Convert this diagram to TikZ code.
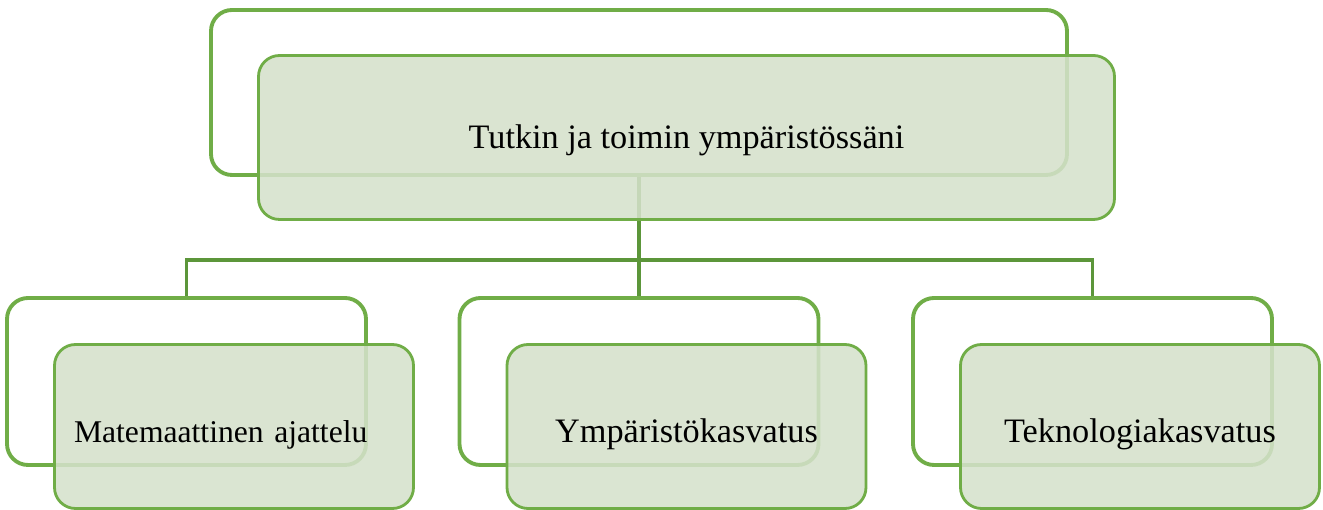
\documentclass[tikz,border=0pt]{standalone}
\usepackage{fontspec}
\setmainfont{Liberation Serif}
\usetikzlibrary{positioning}
\definecolor{leafLine}{RGB}{112,173,71}
\definecolor{stemLine}{RGB}{92,150,58}
\definecolor{leafFill}{RGB}{213,225,203}
\newcommand{\boxShiftX}{0.95}
\newcommand{\boxShiftY}{-0.9}
\newcommand{\barHeight}{5.0}
\tikzset{
  backbox/.style={draw=leafLine, line width=2.2pt, rounded corners=0.42cm, fill=white,
    inner sep=0pt},
  frontbox/.style={draw=leafLine, line width=1.6pt, rounded corners=0.42cm, fill=leafFill,
    fill opacity=0.87, text opacity=1, inner sep=0pt, font=\fontsize{19.5}{23}\selectfont},
  stem/.style={draw=stemLine, line width=2.2pt}
}

\begin{document}
\begin{tikzpicture}
\useasboundingbox (0,0) rectangle (26.46,10.2);
% back boxes
\node[backbox, minimum width=17.12cm, minimum height=3.3cm] (topBack) at (12.78,8.35) {};
\node[backbox, minimum width=7.18cm, minimum height=3.34cm] (mathBack) at (3.73,2.57) {};
\node[backbox, minimum width=7.18cm, minimum height=3.34cm] (envBack) at (12.78,2.57) {};
\node[backbox, minimum width=7.18cm, minimum height=3.34cm] (techBack) at (21.85,2.57) {};
% tree lines
\coordinate (bar) at (12.78,\barHeight);
\draw[stem] (topBack.south) |- (mathBack.north |- bar) -- (mathBack.north);
\draw[stem] (topBack.south) |- (techBack.north |- bar) -- (techBack.north);
\draw[stem] (topBack.south) -- (envBack.north);
% front boxes
\node[frontbox, minimum width=17.12cm, minimum height=3.28cm, text height=0.6cm, text depth=0.14cm]
  (topFront) at ([shift={(\boxShiftX,\boxShiftY)}]topBack.center) {Tutkin ja toimin ympäristössäni};
\node[frontbox, minimum width=7.18cm, minimum height=3.28cm, text height=0.8cm, text depth=0.14cm,
  text width=6.4cm, align=left, font=\fontsize{18}{22}\selectfont]
  (mathFront) at ([shift={(\boxShiftX,\boxShiftY)}]mathBack.center) {Matemaattinen ajattelu};
\node[frontbox, minimum width=7.18cm, minimum height=3.28cm, text height=0.8cm, text depth=0.14cm]
  (envFront) at ([shift={(\boxShiftX,\boxShiftY)}]envBack.center) {Ympäristökasvatus};
\node[frontbox, minimum width=7.18cm, minimum height=3.28cm, text height=0.8cm, text depth=0.14cm]
  (techFront) at ([shift={(\boxShiftX,\boxShiftY)}]techBack.center) {Teknologiakasvatus};
\end{tikzpicture}
\end{document}
